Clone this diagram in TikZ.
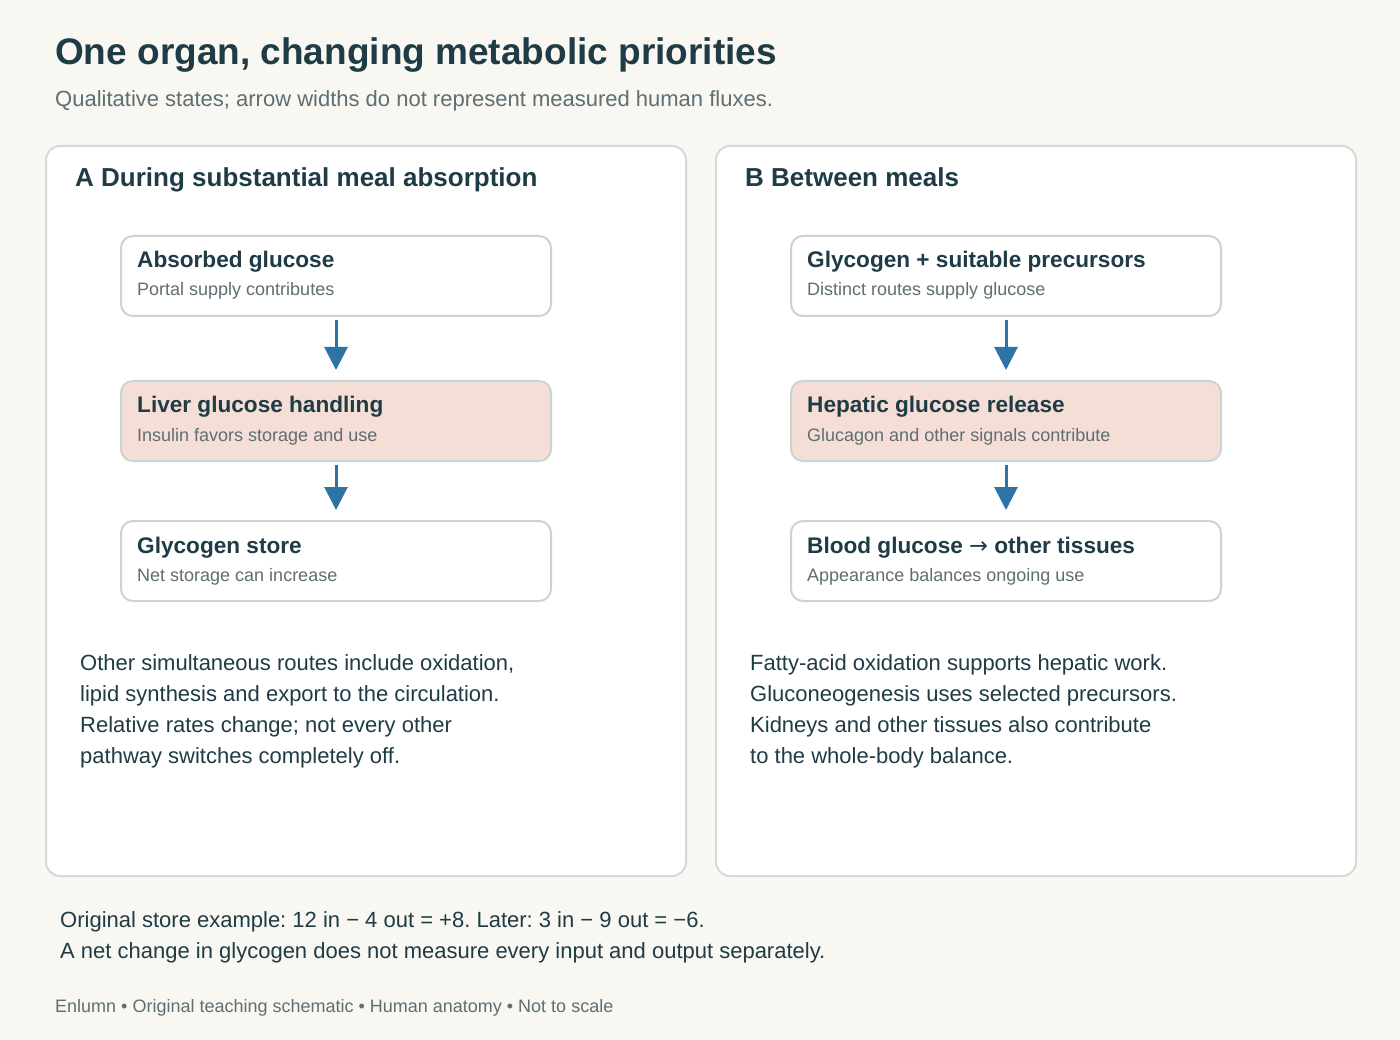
\documentclass[tikz,border=0pt]{standalone}
\usepackage{fontspec}
\setmainfont{Liberation Sans}
\newfontfamily\arrowfont{DejaVu Sans}
\usetikzlibrary{arrows.meta}
\definecolor{bg}{HTML}{F8F7F2}
\definecolor{ink}{HTML}{1F3B45}
\definecolor{muted}{HTML}{5E6E72}
\definecolor{panelline}{HTML}{D3DBD8}
\definecolor{boxline}{HTML}{C8D5D2}
\definecolor{hot}{HTML}{F5DED6}
\definecolor{flow}{HTML}{2D74A6}
\tikzset{
  panel/.style={draw=panelline, line width=2pt, fill=white, rounded corners=14pt, minimum width=640pt, minimum height=730pt, anchor=north west, inner sep=0pt},
  stepbox/.style={draw=boxline, line width=2pt, fill=white, rounded corners=12pt, minimum width=430pt, minimum height=80pt, anchor=north west, inner sep=0pt},
  hotbox/.style={stepbox, fill=hot},
  btitle/.style={anchor=base west, inner sep=0pt, text=ink, font=\fontsize{22.6}{26}\selectfont\bfseries},
  bsub/.style={anchor=base west, inner sep=0pt, text=muted, font=\fontsize{18}{22}\selectfont},
  phead/.style={anchor=base west, inner sep=0pt, text=ink, font=\fontsize{26}{30}\selectfont\bfseries},
  body/.style={anchor=base west, inner sep=0pt, text=ink, align=left, font=\fontsize{22}{31}\selectfont},
  flowarrow/.style={draw=flow, line width=3pt, -{Triangle[width=23pt,length=23pt]}, shorten <=3pt, shorten >=10pt}
}
\begin{document}
\frenchspacing
\begin{tikzpicture}[x=1pt,y=-1pt]
\fill[bg] (0,0) rectangle (1400,1040);
\useasboundingbox (0,0) rectangle (1400,1040);

\node[anchor=base west, inner sep=0pt, text=ink, font=\fontsize{37}{42}\selectfont\bfseries] (title) at (55,65) {One organ, changing metabolic priorities};
\node[anchor=base west, inner sep=0pt, text=muted, font=\fontsize{22}{26}\selectfont] (subtitle) at (55,107) {Qualitative states; arrow widths do not represent measured human fluxes.};

% Panel A
\node[panel] (pA) at (45,145) {};
\node[phead] (hA) at (75,187) {A During substantial meal absorption};
\node[stepbox] (a1) at (120,235) {};
\node[btitle] (a1t) at (137,268) {Absorbed glucose};
\node[bsub] (a1s) at (137,296) {Portal supply contributes};
\node[hotbox] (a2) at (120,380) {};
\node[btitle] (a2t) at (137,413) {Liver glucose handling};
\node[bsub] (a2s) at (137,441) {Insulin favors storage and use};
\node[stepbox] (a3) at (120,520) {};
\node[btitle] (a3t) at (137,553) {Glycogen store};
\node[bsub] (a3s) at (137,581) {Net storage can increase};
\draw[flowarrow] (a1.south) -- (a2.north);
\draw[flowarrow] (a2.south) -- (a3.north);
\node[body] (bodyA) at (80,763) {Other simultaneous routes include oxidation,\\lipid synthesis and export to the circulation.\\Relative rates change; not every other\\pathway switches completely off.};

% Panel B
\node[panel] (pB) at (715,145) {};
\node[phead] (hB) at (745,187) {B Between meals};
\node[stepbox] (b1) at (790,235) {};
\node[btitle] (b1t) at (807,268) {Glycogen + suitable precursors};
\node[bsub] (b1s) at (807,296) {Distinct routes supply glucose};
\node[hotbox] (b2) at (790,380) {};
\node[btitle] (b2t) at (807,413) {Hepatic glucose release};
\node[bsub] (b2s) at (807,441) {Glucagon and other signals contribute};
\node[stepbox] (b3) at (790,520) {};
\node[btitle] (b3t) at (807,553) {Blood glucose {\arrowfont\mdseries →} other tissues};
\node[bsub] (b3s) at (807,581) {Appearance balances ongoing use};
\draw[flowarrow] (b1.south) -- (b2.north);
\draw[flowarrow] (b2.south) -- (b3.north);
\node[body] (bodyB) at (750,763) {Fatty-acid oxidation supports hepatic work.\\Gluconeogenesis uses selected precursors.\\Kidneys and other tissues also contribute\\to the whole-body balance.};

% Bottom notes
\node[body] (note) at (60,958) {Original store example: 12 in − 4 out = +8. Later: 3 in − 9 out = −6.\\A net change in glycogen does not measure every input and output separately.};
\node[anchor=base west, inner sep=0pt, text=muted, font=\fontsize{18}{22}\selectfont] (footer) at (55,1012) {Enlumn • Original teaching schematic • Human anatomy • Not to scale};
\end{tikzpicture}
\end{document}
